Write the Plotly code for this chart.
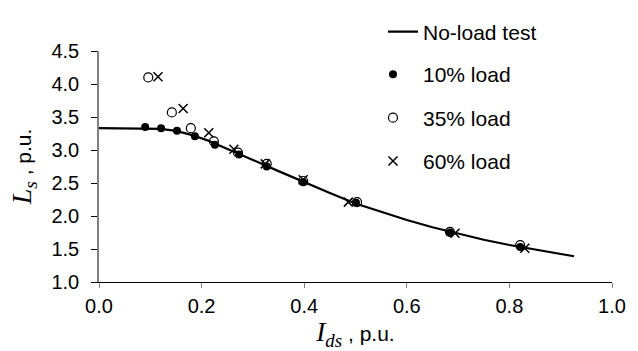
import plotly.graph_objects as go

# No-load test curve
curve_x = [0.0, 0.05, 0.09, 0.12, 0.15, 0.18, 0.21, 0.25, 0.30, 0.35, 0.40, 0.45,
           0.50, 0.55, 0.60, 0.65, 0.70, 0.75, 0.80, 0.85, 0.90, 0.926]
curve_y = [3.33, 3.33, 3.33, 3.32, 3.29, 3.23, 3.15, 3.02, 2.85, 2.68, 2.51, 2.35,
           2.19, 2.06, 1.94, 1.83, 1.73, 1.64, 1.56, 1.49, 1.42, 1.39]

# 10% load
load10_x = [0.090, 0.121, 0.152, 0.187, 0.226, 0.273, 0.327, 0.398, 0.501, 0.684, 0.821]
load10_y = [3.35, 3.33, 3.29, 3.21, 3.08, 2.93, 2.75, 2.51, 2.20, 1.75, 1.53]

# 35% load
load35_x = [0.096, 0.142, 0.179, 0.224, 0.271, 0.327, 0.398, 0.503, 0.684, 0.821]
load35_y = [4.10, 3.57, 3.33, 3.13, 2.96, 2.79, 2.53, 2.21, 1.76, 1.56]

# 60% load
load60_x = [0.115, 0.164, 0.214, 0.263, 0.324, 0.398, 0.486, 0.694, 0.830]
load60_y = [4.11, 3.63, 3.26, 3.01, 2.79, 2.55, 2.21, 1.74, 1.51]

x_ticks = [0.0, 0.2, 0.4, 0.6, 0.8, 1.0]
y_ticks = [1.0, 1.5, 2.0, 2.5, 3.0, 3.5, 4.0, 4.5]

FONT = "Liberation Sans, Arial, sans-serif"

fig = go.Figure()
fig.add_trace(go.Scatter(x=curve_x, y=curve_y, mode="lines", name="No-load test",
                         line=dict(color="black", width=2.2), legend="legend"))
fig.add_trace(go.Scatter(x=load10_x, y=load10_y, mode="markers", name="10% load",
                         marker=dict(symbol="circle", size=8, color="black"), legend="legend2"))
fig.add_trace(go.Scatter(x=load35_x, y=load35_y, mode="markers", name="35% load",
                         marker=dict(symbol="circle-open", size=9, color="black",
                                     line=dict(width=1.2, color="black")), legend="legend3"))
fig.add_trace(go.Scatter(x=load60_x, y=load60_y, mode="markers", name="60% load",
                         marker=dict(symbol="x-thin-open", size=9, color="black",
                                     line=dict(width=1.5, color="black")), legend="legend4"))

def leg(x, y, iw):
    return dict(x=x, y=y, xanchor="left", yanchor="middle", bgcolor="rgba(0,0,0,0)",
                font=dict(family=FONT, size=21, color="black"), itemwidth=iw,
                maxheight=500, borderwidth=0)

fig.update_layout(
    width=638, height=351,
    margin=dict(l=99, r=26, t=37, b=69),
    paper_bgcolor="white", plot_bgcolor="white",
    font=dict(family=FONT, size=20, color="black"),
    showlegend=True,
    legend=leg(0.5536, 1.082, 30),
    legend2=leg(0.5146, 0.898, 50),
    legend3=leg(0.5146, 0.710, 50),
    legend4=leg(0.5146, 0.522, 50),
    xaxis=dict(range=[0, 1], tickvals=x_ticks, ticktext=[f"{v:.1f}" for v in x_ticks],
               showgrid=False, zeroline=False, showline=True, linecolor="black", linewidth=1.2,
               ticks="outside", ticklen=5, tickcolor="#808080", tickwidth=1,
               ticklabelstandoff=1,
               title=dict(text="<span style='font-family:Liberation Serif;font-size:27px'><i>I<sub>ds</sub></i></span> , p.u.",
                          font=dict(family=FONT, size=21), standoff=2)),
    yaxis=dict(range=[1, 4.5], tickvals=y_ticks, ticktext=[f"{v:.1f}" for v in y_ticks],
               showgrid=False, zeroline=False, showline=True, linecolor="#808080", linewidth=1.5,
               ticks="outside", ticklen=6, tickcolor="black", tickwidth=1,
               ticklabelstandoff=8,
               title=dict(text="<span style='font-family:Liberation Serif;font-size:28px'><i>L<sub>s</sub></i></span> , p.u.",
                          font=dict(family=FONT, size=21), standoff=14)),
)

fig.write_html("out.html")
